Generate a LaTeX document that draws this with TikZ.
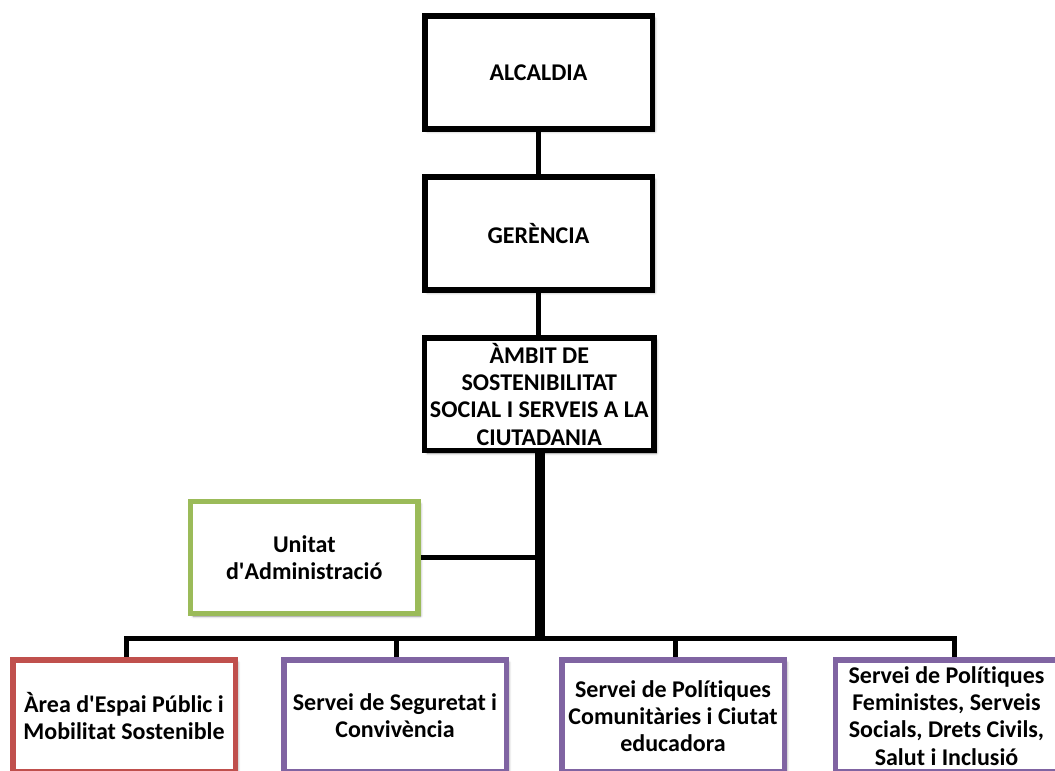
\documentclass[tikz,border=0pt]{standalone}
\usepackage{fontspec}
\setmainfont{Carlito}[Ligatures=NoCommon]
\usetikzlibrary{shadows.blur,backgrounds}
\definecolor{boxred}{HTML}{C0504D}
\definecolor{boxpurple}{HTML}{8064A2}
\definecolor{boxgreen}{HTML}{9BBB59}
\newcommand{\apos}{\textquotesingle}
\tikzset{
  orgbox/.style={draw=black, line width=5.5pt, fill=white, align=center,
    minimum width=227.5pt, minimum height=113pt, inner sep=0pt,
    font=\fontsize{24}{27.3}\selectfont\bfseries,
    blur shadow={shadow xshift=2.5pt, shadow yshift=-2.5pt,
      shadow blur radius=2.5pt, shadow opacity=45}},
  unitbox/.style={orgbox, minimum width=222.5pt, minimum height=112pt},
  link/.style={line width=5pt, line join=miter},
  trunk/.style={line width=10pt},
}
\begin{document}
\begin{tikzpicture}[x=1pt,y=-1pt]
\path[use as bounding box] (0,0) rectangle (1055,771);
\clip (0,0) rectangle (1055,771);

% upper chain
\node[orgbox] (alc) at (538.5,72.3) {ALCALDIA};
\node[orgbox] (ger) at (538.5,233.5) {GERÈNCIA};
\node[orgbox, minimum width=229.5pt, minimum height=112.5pt] (amb) at (539.3,394.3)
  {ÀMBIT DE\\SOSTENIBILITAT\\SOCIAL I SERVEIS A LA\\CIUTADANIA};

% staff unit
\node[orgbox, draw=boxgreen, minimum height=112pt] (uni) at (304.3,557.5)
  {Unitat\\d\apos Administració};

% lower row
\node[unitbox, draw=boxred] (a1) at (124,716) {Àrea d\apos Espai Públic i\\Mobilitat Sostenible};
\node[unitbox, draw=boxpurple] (a2) at (395,716) {Servei de Seguretat i\\Convivència};
\node[unitbox, draw=boxpurple] (a3) at (673,716) {Servei de Polítiques\\Comunitàries i Ciutat\\educadora};
\node[unitbox, draw=boxpurple] (a4) at (946.5,716) {Servei de Polítiques\\Feministes, Serveis\\Socials, Drets Civils,\\Salut i Inclusió};

% bus coordinates
\coordinate (d1) at (126,638.5);
\coordinate (d2) at (396,638.5);
\coordinate (d3) at (675.5,638.5);
\coordinate (d4) at (954.5,638.5);
\coordinate (tr) at (540,638.5);

\begin{scope}[on background layer]
  \draw[link] (alc.south) -- (ger.north);
  \draw[link] (ger.south) -- (ger.south |- amb.north);
  \draw[trunk] (amb.south -| tr) -- (tr);
  \draw[link] (uni.east) -- (uni.east -| tr);
  \draw[link] (d1 |- a1.north) -- (d1) -- (d4) -- (d4 |- a4.north);
  \draw[link] (d2) -- (d2 |- a2.north);
  \draw[link] (d3) -- (d3 |- a3.north);
\end{scope}
\end{tikzpicture}
\end{document}
